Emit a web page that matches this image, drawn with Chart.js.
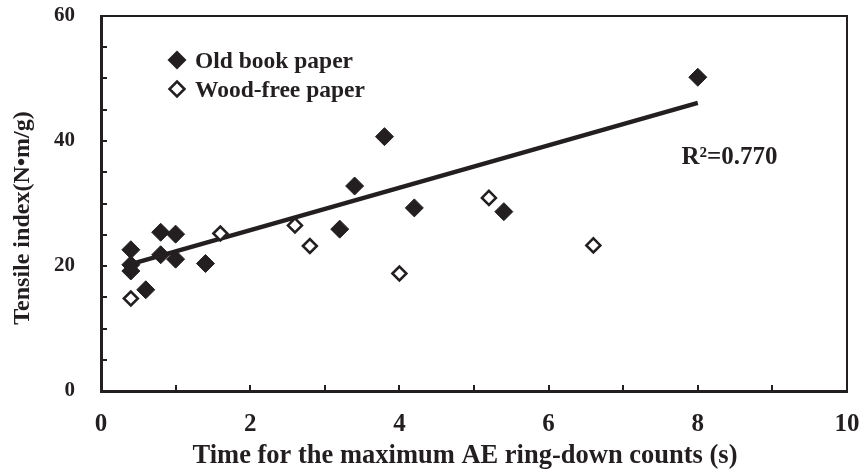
<!DOCTYPE html>
<html>
<head>
<meta charset="utf-8">
<script src="https://cdn.jsdelivr.net/npm/chart.js@4.4.1/dist/chart.umd.min.js"></script>
<style>
  html, body { margin: 0; padding: 0; background: #fff; }
  #wrap { width: 861px; height: 473px; }
</style>
</head>
<body>
<div id="wrap"><canvas id="chart" width="861" height="473"></canvas></div>
<script>
'use strict';

// data
const oldX  = [8.0, 3.8, 3.4, 4.2, 5.4, 3.2, 0.4, 0.8, 1.0, 0.8, 1.0, 0.4, 0.4, 1.4, 0.6];
const oldY  = [50.2, 40.7, 32.8, 29.3, 28.7, 25.9, 22.6, 25.4, 25.1, 21.8, 21.1, 20.2, 19.2, 20.4, 16.2];
const freeX = [0.4, 1.6, 2.6, 2.8, 4.0, 5.2, 6.6];
const freeY = [14.8, 25.2, 26.5, 23.2, 18.8, 30.9, 23.3];
const trendX = [0.4, 8.0];
const trendY = [20.3, 46.1];

const xTicks = [0, 2, 4, 6, 8, 10];
const yTicks = [0, 20, 40, 60];
const seriesNames = ['Old book paper', 'Wood-free paper'];
const r2Text = 'R²=0.770';
const r2At = [7.78, 37.4];
const xTitle = 'Time for the maximum AE ring-down counts (s)';
const yTitle = 'Tensile index(N•m/g)';

const INK = '#231f20';
const SERIF = "'Liberation Serif', 'Times New Roman', serif";

const toPts = (xs, ys) => xs.map((x, i) => ({ x, y: ys[i] }));

function diamond(ctx, x, y, r) {
  ctx.beginPath();
  ctx.moveTo(x, y - r);
  ctx.lineTo(x + r, y);
  ctx.lineTo(x, y + r);
  ctx.lineTo(x - r, y);
  ctx.closePath();
}

const decor = {
  id: 'decor',
  afterDraw(chart) {
    const { ctx, chartArea: a, scales: { x, y } } = chart;
    ctx.save();
    ctx.strokeStyle = INK;
    ctx.fillStyle = INK;

    // thin top / right frame
    ctx.lineWidth = 2;
    ctx.beginPath();
    ctx.moveTo(a.left, a.top); ctx.lineTo(a.right, a.top); ctx.lineTo(a.right, a.bottom);
    ctx.stroke();

    // inner tick marks
    ctx.beginPath();
    for (let v = x.min + 1; v < x.max; v += 1) {
      const px = Math.round(x.getPixelForValue(v));
      ctx.moveTo(px, a.bottom); ctx.lineTo(px, a.bottom - 6);
    }
    for (let v = y.min + 5; v < y.max; v += 5) {
      const py = Math.round(y.getPixelForValue(v));
      ctx.moveTo(a.left, py); ctx.lineTo(a.left + 6, py);
    }
    ctx.stroke();

    // legend
    diamond(ctx, 177, 60, 9.5);
    ctx.fill();
    ctx.lineWidth = 2.5;
    diamond(ctx, 177, 89, 7.5);
    ctx.fillStyle = '#fff'; ctx.fill();
    ctx.stroke();
    ctx.fillStyle = INK;
    ctx.font = 'bold 23.5px ' + SERIF;
    ctx.textAlign = 'left';
    ctx.textBaseline = 'alphabetic';
    ctx.fillText(seriesNames[0], 195, 68);
    ctx.fillText(seriesNames[1], 195, 97);

    // R² annotation
    ctx.font = 'bold 25px ' + SERIF;
    ctx.textBaseline = 'middle';
    ctx.fillText(r2Text, x.getPixelForValue(r2At[0]), y.getPixelForValue(r2At[1]));

    // axis titles
    ctx.textAlign = 'center';
    ctx.textBaseline = 'alphabetic';
    ctx.font = 'bold 26.5px ' + SERIF;
    ctx.fillText(xTitle, 465, 463);

    ctx.save();
    ctx.translate(29, 218);
    ctx.rotate(-Math.PI / 2);
    ctx.font = 'bold 24px ' + SERIF;
    ctx.fillText(yTitle, 0, 0);
    ctx.restore();

    ctx.restore();
  }
};

new Chart(document.getElementById('chart'), {
  type: 'scatter',
  data: {
    datasets: [
      {
        label: seriesNames[0],
        data: toPts(oldX, oldY),
        pointStyle: 'rectRot',
        pointRadius: 9,
        pointHoverRadius: 9,
        backgroundColor: INK,
        borderColor: INK,
        borderWidth: 1,
        order: 1
      },
      {
        label: seriesNames[1],
        data: toPts(freeX, freeY),
        pointStyle: 'rectRot',
        pointRadius: 7,
        pointHoverRadius: 7,
        backgroundColor: '#fff',
        borderColor: INK,
        borderWidth: 2.5,
        order: 2
      },
      {
        label: 'fit',
        type: 'line',
        data: toPts(trendX, trendY),
        borderColor: INK,
        borderWidth: 4.5,
        pointRadius: 0,
        fill: false,
        order: 3
      }
    ]
  },
  options: {
    responsive: false,
    animation: false,
    layout: { padding: { top: 16, right: 14, left: 0, bottom: 0 } },
    plugins: { legend: { display: false }, tooltip: { enabled: false } },
    scales: {
      x: {
        type: 'linear',
        min: 0, max: 10,
        afterBuildTicks: s => { s.ticks = xTicks.map(v => ({ value: v })); },
        afterFit: s => { s.height = 82; s.paddingLeft = 0; s.paddingRight = 0; },
        grid: { display: false, drawTicks: false },
        border: { display: true, color: INK, width: 3 },
        ticks: { color: INK, padding: 19, font: { family: SERIF, size: 25, weight: 'bold' } },
        title: { display: false }
      },
      y: {
        type: 'linear',
        min: 0, max: 60,
        afterBuildTicks: s => { s.ticks = yTicks.map(v => ({ value: v })); },
        afterFit: s => { s.width = 101; s.paddingTop = 0; s.paddingBottom = 0; },
        grid: { display: false, drawTicks: false },
        border: { display: true, color: INK, width: 3 },
        ticks: { color: INK, padding: 26, font: { family: SERIF, size: 21, weight: 'bold' } },
        title: { display: false }
      }
    }
  },
  plugins: [decor]
});
</script>
</body>
</html>
